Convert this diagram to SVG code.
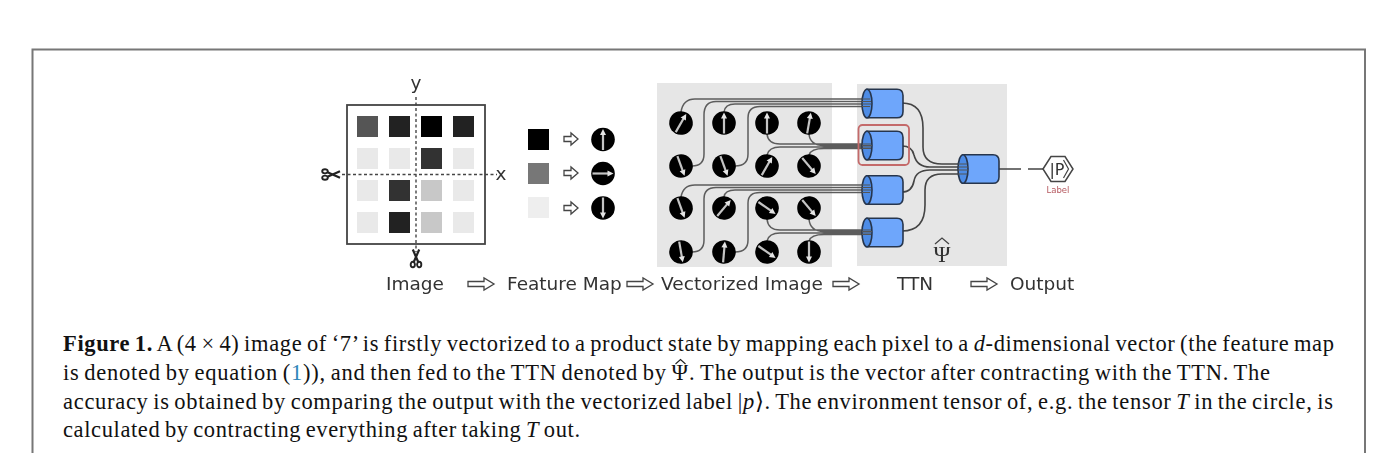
<svg xmlns="http://www.w3.org/2000/svg" width="1379" height="453" viewBox="0 0 1379 453">
<style>
.lbl{font-family:"DejaVu Sans",sans-serif;font-size:18.5px;fill:#333}
.cap{font-family:"Liberation Serif",serif;font-size:22.5px;fill:#111;word-spacing:-1.6px}
.w{fill:none;stroke:#5c5c5c;stroke-width:1.5}
.t{fill:none;stroke:#444;stroke-width:1.6}
.dash{stroke:#444;stroke-width:1.4;stroke-dasharray:3 2.5}
.ha{fill:#fff;stroke:#444;stroke-width:1.3}
.cb{fill:#6ea6fb;stroke:#27364d;stroke-width:1.6}
.cf{fill:#4d8ce6;stroke:#27364d;stroke-width:1.6}
</style>
<defs>
<filter id="soft" x="-2%" y="-2%" width="104%" height="104%"><feGaussianBlur stdDeviation="0.4"/></filter>
<g id="spin"><circle r="11.8" fill="#000"/><path d="M0,10.500V-6" stroke="#c4c4c4" stroke-width="2.2"/><path d="M-3,-4.500L0,-10.500L3,-4.500Z" fill="#e4e4e4"/></g>
<path id="arrS" class="ha" d="M0,-2.500H7V-6L14,0L7,6V2.500H0Z"/>
<path id="arrL" class="ha" d="M0,-2.500H16V-6L26,0L16,6V2.500H0Z"/>
<g id="sc" fill="none" stroke="#222"><ellipse cx="-6" cy="-3.200" rx="2.800" ry="2.100" stroke-width="1.900"/><ellipse cx="-6" cy="3.200" rx="2.800" ry="2.100" stroke-width="1.900"/><path d="M-3.500,-2.200L9,3.200M-3.500,2.200L9,-3.200" stroke-width="2.200"/></g>
<g id="cyl"><path class="cb" d="M0,-14.300H30Q36,-14.300 36,-8V8Q36,14.300 30,14.300H0Z"/><ellipse class="cf" cx="0" cy="0" rx="5" ry="14.300"/></g>
</defs>
<rect width="1379" height="453" fill="#fff"/>
<path d="M32.500,453V49.500H1365V453" fill="none" stroke="#777" stroke-width="2"/>
<g filter="url(#soft)">
<g id="panels"><rect x="657" y="83" width="175" height="184" fill="#e6e6e6"/><rect x="857" y="84" width="150" height="182" fill="#e6e6e6"/></g>

<g id="image-grid">
<rect x="347" y="105" width="138" height="139" fill="#fff" stroke="#444" stroke-width="1.8"/>
<rect x="357" y="116" width="21" height="21" fill="#555"/><rect x="389" y="116" width="21" height="21" fill="#222"/><rect x="421" y="116" width="21" height="21" fill="#000"/><rect x="453" y="116" width="21" height="21" fill="#222"/>
<rect x="357" y="148" width="21" height="21" fill="#e9e9e9"/><rect x="389" y="148" width="21" height="21" fill="#e9e9e9"/><rect x="421" y="148" width="21" height="21" fill="#333"/><rect x="453" y="148" width="21" height="21" fill="#e9e9e9"/>
<rect x="357" y="180" width="21" height="21" fill="#e9e9e9"/><rect x="389" y="180" width="21" height="21" fill="#333"/><rect x="421" y="180" width="21" height="21" fill="#c8c8c8"/><rect x="453" y="180" width="21" height="21" fill="#e9e9e9"/>
<rect x="357" y="212" width="21" height="21" fill="#e9e9e9"/><rect x="389" y="212" width="21" height="21" fill="#222"/><rect x="421" y="212" width="21" height="21" fill="#c8c8c8"/><rect x="453" y="212" width="21" height="21" fill="#e9e9e9"/>
<path class="dash" d="M342,174.500H497M416,97V252"/>
<text class="lbl" x="416" y="89" text-anchor="middle">y</text>
<text class="lbl" x="501" y="180" text-anchor="middle">x</text>
<use href="#sc" transform="translate(331,174.500)"/>
<use href="#sc" transform="translate(416,258.500) rotate(-90)"/>
</g>

<g id="feature-legend">
<rect x="528" y="129" width="21" height="21" fill="#000"/><rect x="528" y="163" width="21" height="21" fill="#777"/><rect x="528" y="197" width="21" height="21" fill="#eee"/>
<use href="#arrS" x="564" y="139"/><use href="#arrS" x="564" y="173"/><use href="#arrS" x="564" y="208"/>
<use href="#spin" transform="translate(603,139.500)"/><use href="#spin" transform="translate(603,173.500) rotate(90)"/><use href="#spin" transform="translate(603,208) rotate(180)"/>
</g>

<g id="connectors">
<path class="w" d="M681,112Q683,99 695,99H868M692,166Q704,166 704,154V115Q704,101.500 716,101.500H868M724,112Q725,104 735,104H868M735,166Q748,166 748,154V118Q748,106.500 760,106.500H868"/>
<path class="w" d="M767,134Q768,144 780,144H868M809,134Q810,145.500 824,145.500H868M767,155Q769,147 780,147H868M809,155Q811,148.500 824,148.500H868"/>
<path class="w" d="M681,197Q683,185 695,185H868M692,252Q704,252 704,240V199Q704,187.500 716,187.500H868M724,197Q725,190 735,190H868M735,252Q748,252 748,240V203Q748,192.500 760,192.500H868"/>
<path class="w" d="M767,219Q768,230 780,230H868M809,219Q810,231.500 824,231.500H868M767,241Q769,233 780,233H868M809,241Q811,234.500 824,234.500H868"/>
<path class="t" d="M902,103Q923,103 923,128V147Q923,164 942,164H962M902,146Q912,146 914,155Q917,167 930,167H962M902,192Q912,192 914,181Q916,170 930,170H962M902,231Q925,231 925,205V190Q925,174 942,174H962"/>
<path class="t" d="M999,169H1021M1028,169H1043"/>
</g>

<g id="state-spins">
<use href="#spin" transform="translate(681,123) rotate(30)"/><use href="#spin" transform="translate(724,123)"/><use href="#spin" transform="translate(767,123)"/><use href="#spin" transform="translate(809,123) rotate(10)"/>
<use href="#spin" transform="translate(681,166) rotate(160)"/><use href="#spin" transform="translate(724,166) rotate(160)"/><use href="#spin" transform="translate(767,166) rotate(30)"/><use href="#spin" transform="translate(809,166) rotate(140)"/>
<use href="#spin" transform="translate(681,208) rotate(160)"/><use href="#spin" transform="translate(724,208) rotate(40)"/><use href="#spin" transform="translate(767,208) rotate(125)"/><use href="#spin" transform="translate(809,208) rotate(140)"/>
<use href="#spin" transform="translate(681,252) rotate(170)"/><use href="#spin" transform="translate(724,252) rotate(5)"/><use href="#spin" transform="translate(767,252) rotate(125)"/><use href="#spin" transform="translate(809,252) rotate(180)"/>
</g>

<g id="ttn-tensor-1"><use href="#cyl" x="867" y="103.500"/></g>
<g id="ttn-tensor-2"><use href="#cyl" x="867" y="145.500"/><rect x="858.500" y="125" width="50.500" height="40" rx="4" fill="none" stroke="#c46a6a" stroke-width="1.800"/></g>
<g id="ttn-tensor-3"><use href="#cyl" x="867" y="190"/></g>
<g id="ttn-tensor-4"><use href="#cyl" x="867" y="232.500"/></g>
<g id="ttn-tensor-top"><use href="#cyl" x="963" y="169"/></g>
<g id="wire-ends" fill="none" stroke="#555" stroke-width="1"><path d="M862,99H870M862,101.500H871M862,104H871M862,106.500H870M862,144H871M862,145.500H872M862,147H871M862,148.500H871M862,185H870M862,187.500H871M862,190H871M862,192.500H870M862,230H871M862,231.500H872M862,233H871M862,234.500H871M958,164H967M958,167H968M958,170H968M958,174H967"/></g>

<g id="label-hex">
<path d="M1043,169L1051,156.500H1065L1073,169L1065,181.500H1051Z" fill="#fff" stroke="#444" stroke-width="1.500"/>
<path d="M1063.500,160L1068.500,169L1063.500,178" fill="none" stroke="#444" stroke-width="1.200"/>
<text x="1057" y="175" text-anchor="middle" font-family="DejaVu Sans,sans-serif" font-size="16" fill="#333">|P</text>
<text x="1058" y="193" text-anchor="middle" font-family="DejaVu Sans,sans-serif" font-size="8.500" fill="#b5585f">Label</text>
</g>
<g id="psi"><text x="942" y="262" text-anchor="middle" font-family="Liberation Serif,serif" font-size="23" fill="#333">Ψ</text><path d="M935,244L942,238L949,244" fill="none" stroke="#444" stroke-width="1.300"/></g>

<g id="pipeline-labels">
<text class="lbl" x="386" y="290">Image</text>
<use href="#arrL" x="468" y="284"/>
<text class="lbl" x="507" y="290">Feature Map</text>
<use href="#arrL" x="627" y="284"/>
<text class="lbl" x="661" y="290" textLength="162">Vectorized Image</text>
<use href="#arrL" x="833" y="284"/>
<text class="lbl" x="897" y="290">TTN</text>
<use href="#arrL" x="971" y="284"/>
<text class="lbl" x="1010" y="290">Output</text>
</g>
</g>

<g id="caption">
<text class="cap" x="63" y="351" textLength="1271" lengthAdjust="spacing"><tspan font-weight="bold">Figure 1.</tspan> A (4 × 4) image of ‘7’ is firstly vectorized to a product state by mapping each pixel to a <tspan font-style="italic">d</tspan>-dimensional vector (the feature map</text>
<text class="cap" x="63" y="380" textLength="1207" lengthAdjust="spacing">is denoted by equation (<tspan fill="#2f86b8">1</tspan>)), and then fed to the TTN denoted by Ψ. The output is the vector after contracting with the TTN. The</text>
<path d="M675.500,364L680.500,359.500L685.500,364" fill="none" stroke="#222" stroke-width="1.100"/>
<text class="cap" x="63" y="409" textLength="1270" lengthAdjust="spacing">accuracy is obtained by comparing the output with the vectorized label |<tspan font-style="italic">p</tspan>⟩. The environment tensor of, e.g. the tensor <tspan font-style="italic">T</tspan> in the circle, is</text>
<text class="cap" x="63" y="437" textLength="517" lengthAdjust="spacing">calculated by contracting everything after taking <tspan font-style="italic">T</tspan> out.</text>
</g>
</svg>
